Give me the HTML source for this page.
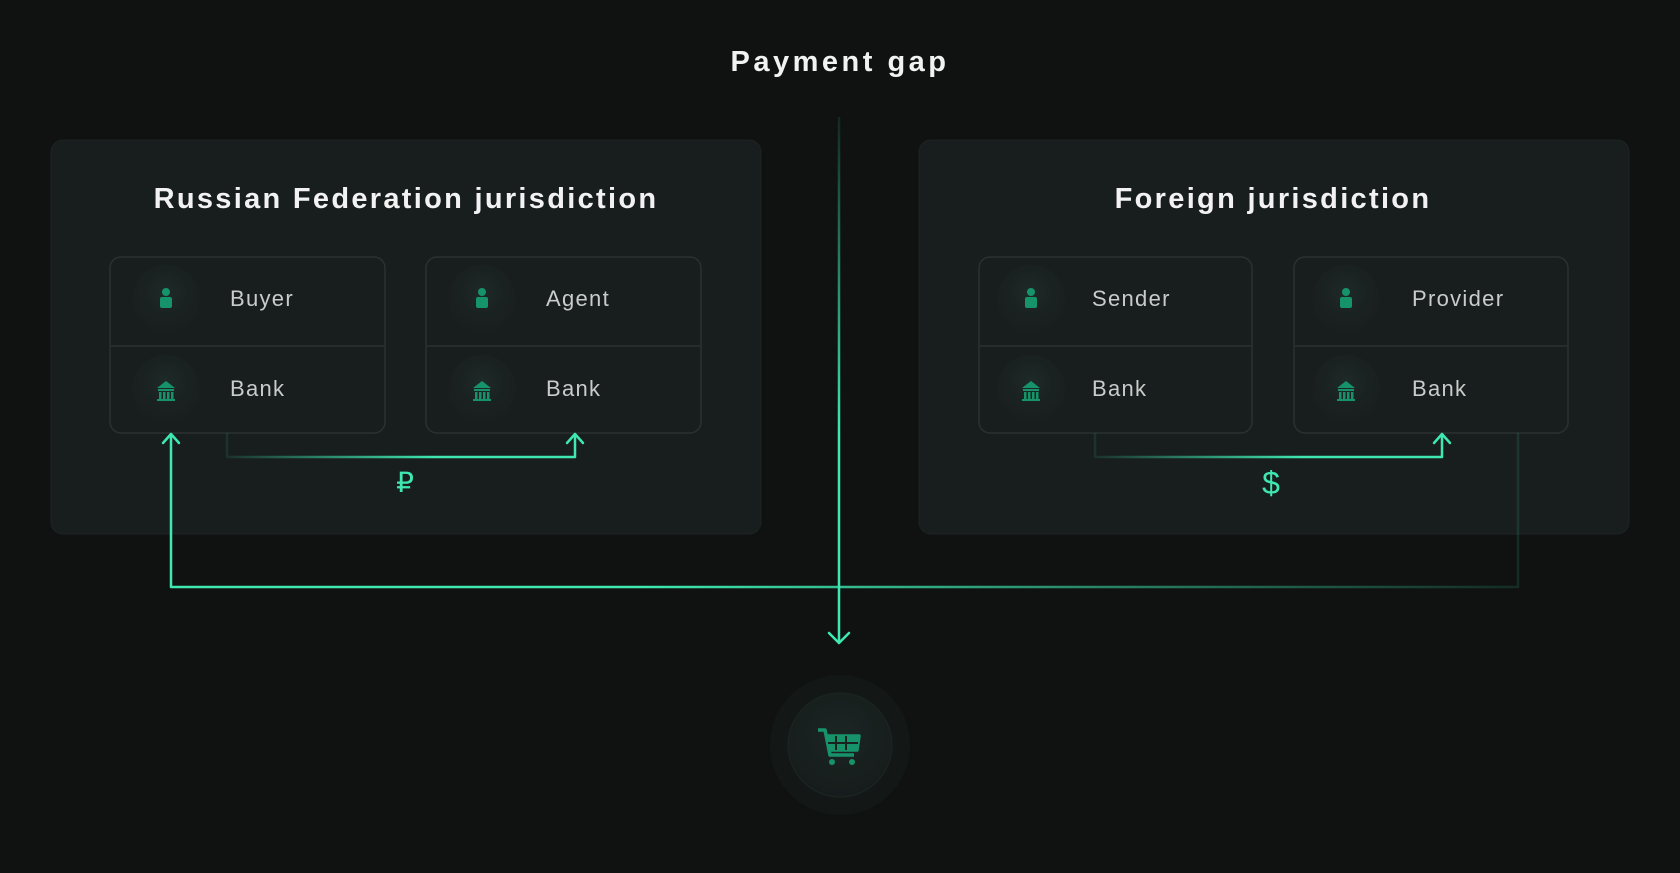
<!DOCTYPE html>
<html><head><meta charset="utf-8"><style>
html,body{margin:0;padding:0;background:#0f1211;}
body{width:1680px;height:873px;overflow:hidden;position:relative;font-family:"Liberation Sans",sans-serif;}
svg{position:absolute;left:0;top:0;}
</style></head><body>
<svg width="1680" height="873" viewBox="0 0 1680 873">
<defs>
<linearGradient id="gv" x1="0" y1="118" x2="0" y2="643" gradientUnits="userSpaceOnUse"><stop offset="0" stop-color="#3ee8b0" stop-opacity="0.1"/><stop offset="0.6" stop-color="#3ee8b0"/></linearGradient>
<linearGradient id="gh" x1="171" y1="0" x2="1518" y2="0" gradientUnits="userSpaceOnUse"><stop offset="0.35" stop-color="#3ee8b0"/><stop offset="1" stop-color="#3ee8b0" stop-opacity="0.12"/></linearGradient>
<linearGradient id="g1" x1="227" y1="0" x2="575" y2="0" gradientUnits="userSpaceOnUse"><stop offset="0" stop-color="#3ee8b0" stop-opacity="0.1"/><stop offset="0.6" stop-color="#3ee8b0"/></linearGradient>
<linearGradient id="g2" x1="1095" y1="0" x2="1442" y2="0" gradientUnits="userSpaceOnUse"><stop offset="0" stop-color="#3ee8b0" stop-opacity="0.1"/><stop offset="0.6" stop-color="#3ee8b0"/></linearGradient>
<radialGradient id="ic" cx="0.5" cy="0.4" r="0.6"><stop offset="0" stop-color="#1e2b28"/><stop offset="1" stop-color="#1a2120" stop-opacity="0.2"/></radialGradient>
<radialGradient id="cg" cx="0.5" cy="0.4" r="0.6"><stop offset="0" stop-color="#1b2623"/><stop offset="1" stop-color="#161c1b"/></radialGradient>
<g id="person"><circle cx="0" cy="-7" r="4" fill="#17936a"/><rect x="-6" y="-2" width="12" height="11" rx="2" fill="#17936a"/></g>
<g id="bank" fill="#17936a"><path d="M-9,-3 L0,-10 L9,-3 Z"/><rect x="-8" y="-2" width="16" height="2"/><rect x="-7" y="1" width="2.5" height="7"/><rect x="-3" y="1" width="2.5" height="7"/><rect x="1" y="1" width="2.5" height="7"/><rect x="5" y="1" width="2.5" height="7"/><rect x="-9" y="8" width="18" height="2"/></g>
</defs>
<text x="840" y="71" text-anchor="middle" fill="#f2f2f2" font-size="29" font-weight="bold" letter-spacing="3.5">Payment gap</text>
<rect x="51" y="140" width="710" height="394" rx="12" fill="#181e1d" stroke="#1d2423"/>
<rect x="919" y="140" width="710" height="394" rx="12" fill="#181e1d" stroke="#1d2423"/>
<text x="406" y="208" text-anchor="middle" fill="#f2f2f2" font-size="29" font-weight="bold" letter-spacing="2.3">Russian Federation jurisdiction</text>
<text x="1273" y="208" text-anchor="middle" fill="#f2f2f2" font-size="29" font-weight="bold" letter-spacing="2.3">Foreign jurisdiction</text>
<g font-size="22" fill="#c8cccb" letter-spacing="1.3">
<g transform="translate(110,257)">
<rect x="0" y="0" width="275" height="176" rx="11" fill="#181e1d" stroke="#2b3130" stroke-width="1.5"/><line x1="0" y1="89" x2="275" y2="89" stroke="#2b3130" stroke-width="1.5"/>
<circle cx="56" cy="42" r="34" fill="url(#ic)"/><use href="#person" x="56" y="42"/><text x="120" y="49">Buyer</text>
<circle cx="56" cy="132" r="34" fill="url(#ic)"/><use href="#bank" x="56" y="134"/><text x="120" y="139">Bank</text></g>
<g transform="translate(426,257)">
<rect x="0" y="0" width="275" height="176" rx="11" fill="#181e1d" stroke="#2b3130" stroke-width="1.5"/><line x1="0" y1="89" x2="275" y2="89" stroke="#2b3130" stroke-width="1.5"/>
<circle cx="56" cy="42" r="34" fill="url(#ic)"/><use href="#person" x="56" y="42"/><text x="120" y="49">Agent</text>
<circle cx="56" cy="132" r="34" fill="url(#ic)"/><use href="#bank" x="56" y="134"/><text x="120" y="139">Bank</text></g>
<g transform="translate(979,257)">
<rect x="0" y="0" width="273" height="176" rx="11" fill="#181e1d" stroke="#2b3130" stroke-width="1.5"/><line x1="0" y1="89" x2="273" y2="89" stroke="#2b3130" stroke-width="1.5"/>
<circle cx="52" cy="42" r="34" fill="url(#ic)"/><use href="#person" x="52" y="42"/><text x="113" y="49">Sender</text>
<circle cx="52" cy="132" r="34" fill="url(#ic)"/><use href="#bank" x="52" y="134"/><text x="113" y="139">Bank</text></g>
<g transform="translate(1294,257)">
<rect x="0" y="0" width="274" height="176" rx="11" fill="#181e1d" stroke="#2b3130" stroke-width="1.5"/><line x1="0" y1="89" x2="274" y2="89" stroke="#2b3130" stroke-width="1.5"/>
<circle cx="52" cy="42" r="34" fill="url(#ic)"/><use href="#person" x="52" y="42"/><text x="118" y="49">Provider</text>
<circle cx="52" cy="132" r="34" fill="url(#ic)"/><use href="#bank" x="52" y="134"/><text x="118" y="139">Bank</text></g>
</g>
<g fill="none" stroke-width="2.5" stroke-linejoin="round" stroke-linecap="round">
<path d="M227,434 V457 H575 V435" stroke="url(#g1)"/>
<path d="M567,443 L575,434 L583,443" stroke="#3ee8b0"/>
<path d="M1095,434 V457 H1442 V435" stroke="url(#g2)"/>
<path d="M1434,443 L1442,434 L1450,443" stroke="#3ee8b0"/>
<path d="M171,435 V587 H1518 V434" stroke="url(#gh)"/>
<path d="M163,443 L171,434 L179,443" stroke="#3ee8b0"/>
<path d="M839,118 V642" stroke="url(#gv)"/>
<path d="M829,633 L839,643 L849,633" stroke="#3ee8b0"/>
</g>
<text x="405" y="492" text-anchor="middle" fill="#3ee8b0" font-size="28">₽</text>
<text x="1271" y="494" text-anchor="middle" fill="#3ee8b0" font-size="32">$</text>
<circle cx="840" cy="745" r="70" fill="#131817"/>
<circle cx="840" cy="745" r="52" fill="url(#cg)" stroke="#1c2624"/>
<g transform="translate(840,747)" fill="none" stroke="#17936a" stroke-width="3.5" stroke-linejoin="round">
<path d="M-22,-17 H-15 L-10,8 H14"/><path d="M-13,-11 H19 L17,3 H-10 Z" fill="#17936a"/>
<path d="M-4,-11 V3 M6,-11 V3 M-12,-4 H18" stroke="#19221f" stroke-width="2"/>
<circle cx="-8" cy="15" r="3" fill="#17936a" stroke="none"/><circle cx="12" cy="15" r="3" fill="#17936a" stroke="none"/>
</g>
</svg>
</body></html>
